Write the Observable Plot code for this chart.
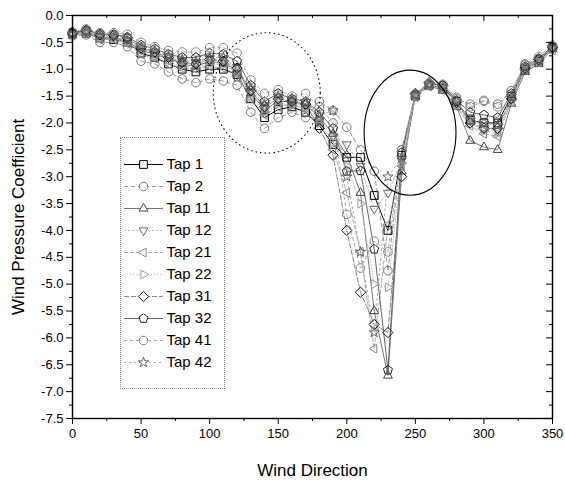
<!DOCTYPE html>
<html><head><meta charset="utf-8">
<script src="https://cdn.jsdelivr.net/npm/d3@7"></script>
<script src="https://cdn.jsdelivr.net/npm/@observablehq/plot@0.6"></script>
<style>
html,body{margin:0;padding:0;background:#fff;}
#chart{position:relative;width:565px;height:484px;font-family:"Liberation Sans",Arial,sans-serif;}
#legend{position:absolute;left:120px;top:137px;}
</style></head><body>
<div id="chart"><div id="legend"></div></div>
<script>
// ---------- data ----------
const directions = [0,10,20,30,40,50,60,70,80,90,100,110,120,130,140,150,160,170,180,190,200,210,220,230,240,250,260,270,280,290,300,310,320,330,340,350];
const tap1  = [-0.35,-0.33,-0.42,-0.45,-0.50,-0.70,-0.78,-0.90,-1.00,-1.05,-1.00,-1.00,-1.10,-1.55,-1.90,-1.75,-1.70,-1.80,-2.05,-2.40,-2.64,-2.64,-3.35,-4.00,-2.60,-1.50,-1.30,-1.35,-1.60,-1.95,-2.00,-2.00,-1.50,-1.00,-0.85,-0.60];
const tap2  = [-0.38,-0.36,-0.50,-0.50,-0.58,-0.85,-0.90,-1.05,-1.18,-1.25,-1.18,-1.22,-1.30,-1.80,-2.10,-1.90,-1.80,-1.90,-1.60,-1.77,-2.08,-2.50,-2.90,-4.75,-2.50,-1.48,-1.28,-1.30,-1.55,-1.65,-1.58,-1.65,-1.40,-0.92,-0.80,-0.58];
const tap11 = [-0.33,-0.30,-0.40,-0.42,-0.48,-0.65,-0.72,-0.80,-0.90,-0.95,-0.85,-0.90,-1.00,-1.45,-1.75,-1.60,-1.60,-1.65,-1.90,-2.20,-2.60,-3.30,-5.50,-6.70,-2.90,-1.50,-1.30,-1.40,-1.70,-2.33,-2.45,-2.50,-1.64,-1.05,-0.90,-0.62];
const tap12 = [-0.34,-0.32,-0.40,-0.40,-0.46,-0.62,-0.70,-0.78,-0.85,-0.88,-0.80,-0.82,-0.95,-1.40,-1.70,-1.55,-1.60,-1.70,-1.95,-2.25,-2.40,-2.80,-3.60,-3.30,-2.70,-1.50,-1.30,-1.35,-1.65,-1.90,-2.10,-2.15,-1.55,-1.00,-0.85,-0.62];
const tap21 = [-0.36,-0.33,-0.45,-0.44,-0.52,-0.72,-0.80,-0.90,-0.98,-1.00,-0.95,-0.98,-1.10,-1.55,-1.85,-1.70,-1.65,-1.75,-2.00,-2.50,-3.30,-4.40,-6.20,-3.90,-2.80,-1.52,-1.32,-1.38,-1.70,-2.05,-2.20,-2.25,-1.60,-1.02,-0.88,-0.65];
const tap22 = [-0.35,-0.31,-0.43,-0.43,-0.50,-0.68,-0.76,-0.86,-0.95,-0.98,-0.90,-0.92,-1.05,-1.50,-1.80,-1.65,-1.68,-1.72,-2.00,-2.35,-2.80,-3.50,-5.00,-5.06,-2.75,-1.50,-1.30,-1.36,-1.68,-2.00,-2.15,-2.20,-1.58,-1.00,-0.86,-0.63];
const tap31 = [-0.33,-0.28,-0.36,-0.37,-0.42,-0.60,-0.68,-0.78,-0.88,-0.90,-0.82,-0.85,-0.98,-1.40,-1.70,-1.55,-1.60,-1.65,-2.10,-2.60,-4.00,-5.15,-5.75,-5.90,-3.00,-1.45,-1.25,-1.30,-1.62,-2.00,-2.10,-2.10,-1.55,-0.98,-0.82,-0.60];
const tap32 = [-0.32,-0.27,-0.34,-0.35,-0.40,-0.55,-0.62,-0.72,-0.78,-0.78,-0.70,-0.72,-0.85,-1.30,-1.60,-1.45,-1.55,-1.60,-1.80,-2.10,-2.90,-2.89,-4.35,-6.60,-2.55,-1.47,-1.27,-1.30,-1.58,-1.80,-1.85,-1.90,-1.45,-0.95,-0.80,-0.58];
const tap41 = [-0.30,-0.25,-0.32,-0.32,-0.35,-0.50,-0.58,-0.65,-0.68,-0.68,-0.60,-0.60,-0.70,-1.20,-1.45,-1.38,-1.50,-1.45,-1.70,-2.00,-3.70,-4.70,-4.20,-4.40,-2.50,-1.46,-1.27,-1.28,-1.52,-1.70,-1.60,-1.70,-1.40,-0.90,-0.76,-0.55];
const tap42 = [-0.35,-0.30,-0.38,-0.38,-0.44,-0.60,-0.66,-0.75,-0.82,-0.85,-0.78,-0.78,-1.15,-1.35,-1.65,-1.50,-1.55,-1.60,-1.85,-1.77,-3.00,-4.40,-5.90,-3.00,-2.65,-1.48,-1.30,-1.32,-1.60,-1.95,-2.00,-2.05,-1.50,-0.96,-0.82,-0.60];
const taps = ["Tap 1","Tap 2","Tap 11","Tap 12","Tap 21","Tap 22","Tap 31","Tap 32","Tap 41","Tap 42"];
const seriesValues = [tap1,tap2,tap11,tap12,tap21,tap22,tap31,tap32,tap41,tap42];
const xTicks = [0,50,100,150,200,250,300,350];
const xMinorTicks = [25,75,125,175,225,275,325];
const yTicks = [0,-0.5,-1,-1.5,-2,-2.5,-3,-3.5,-4,-4.5,-5,-5.5,-6,-6.5,-7,-7.5];
const yMinorTicks = [-0.25,-0.75,-1.25,-1.75,-2.25,-2.75,-3.25,-3.75,-4.25,-4.75,-5.25,-5.75,-6.25,-6.75,-7.25];
const xLabel = "Wind Direction";
const yLabel = "Wind Pressure Coefficient";
// highlighted regions (centre and half-axes in data units)
const regionDotted = {cx:142, cy:-1.45, rx:39, ry:1.12};
const regionSolid  = {cx:246.5, cy:-2.19, rx:33.5, ry:1.165};

// ---------- symbols ----------
function poly(pts){
  return {draw(ctx, size){
    const r = Math.sqrt(size/Math.PI);
    pts.forEach(([a,b],i)=> i ? ctx.lineTo(a*r,b*r) : ctx.moveTo(a*r,b*r));
    ctx.closePath();
  }};
}
function ngon(n, k, rot){
  const p=[]; for(let i=0;i<n;i++){const a=rot+2*Math.PI*i/n; p.push([k*Math.cos(a),k*Math.sin(a)]);} return p;
}
function starPts(){
  const p=[]; for(let i=0;i<10;i++){const a=-Math.PI/2+Math.PI*i/5; const k=i%2?0.5:1.25; p.push([k*Math.cos(a),k*Math.sin(a)]);} return p;
}
const symSquare = poly([[-0.9,-0.9],[0.9,-0.9],[0.9,0.9],[-0.9,0.9]]);
const symCircle = {draw(ctx,size){const r=Math.sqrt(size/Math.PI); ctx.moveTo(r,0); ctx.arc(0,0,r,0,2*Math.PI);}};
const symUp = poly(ngon(3,1.2,-Math.PI/2));
const symDown = poly(ngon(3,1.2,Math.PI/2));
const symLeft = poly(ngon(3,1.2,Math.PI));
const symRight = poly(ngon(3,1.2,0));
const symDiamond = poly([[0,-1.2],[1.2,0],[0,1.2],[-1.2,0]]);
const symPent = poly(ngon(5,1.1,-Math.PI/2));
const symHex = poly(ngon(8,1.05,Math.PI/8));
const symStar = poly(starPts());

const styles = {
  "Tap 1":  {sym:symSquare, mk:"#000", ln:"#000", dash:null},
  "Tap 2":  {sym:symCircle, mk:"#777", ln:"#999", dash:"4,3"},
  "Tap 11": {sym:symUp,     mk:"#444", ln:"#777", dash:null},
  "Tap 12": {sym:symDown,   mk:"#666", ln:"#bbb", dash:"2,2"},
  "Tap 21": {sym:symLeft,   mk:"#888", ln:"#aaa", dash:"4,2"},
  "Tap 22": {sym:symRight,  mk:"#999", ln:"#bbb", dash:"1,2"},
  "Tap 31": {sym:symDiamond,mk:"#111", ln:"#888", dash:"5,2"},
  "Tap 32": {sym:symPent,   mk:"#222", ln:"#666", dash:null},
  "Tap 41": {sym:symHex,    mk:"#888", ln:"#aaa", dash:"3,3"},
  "Tap 42": {sym:symStar,   mk:"#666", ln:"#aaa", dash:"2,3"}
};

function ellipseMark(e, dash){
  return (index, scales) => {
    const cx = scales.x(e.cx), cy = scales.y(e.cy);
    const rx = Math.abs(scales.x(e.cx+e.rx)-cx), ry = Math.abs(scales.y(e.cy+e.ry)-cy);
    const el = d3.create("svg:ellipse")
      .attr("cx",cx).attr("cy",cy).attr("rx",rx).attr("ry",ry)
      .attr("fill","none").attr("stroke","#000").attr("stroke-width",1.1);
    if (dash) el.attr("stroke-dasharray",dash);
    return el.node();
  };
}

const W=565,H=484,ML=72,MR=13,MT=15,MB=66;
const PW=W-ML-MR, PH=H-MT-MB;

const lineMarks=[], dotMarks=[];
taps.forEach((name,i)=>{
  const rows = directions.map((d,j)=>({dir:d, cp:seriesValues[i][j]}));
  const s = styles[name];
  lineMarks.push(Plot.line(rows,{x:"dir",y:"cp",stroke:s.ln,strokeWidth:1,strokeDasharray:s.dash}));
  dotMarks.push(Plot.dot(rows,{x:"dir",y:"cp",symbol:s.sym,r:4.3,stroke:s.mk,strokeWidth:1,fill:"none"}));
});

const chart = Plot.plot({
  width:W, height:H, marginLeft:ML, marginRight:MR, marginTop:MT, marginBottom:MB,
  style:{fontFamily:'"Liberation Sans",Arial,sans-serif', fontSize:"13px", color:"#000", background:"#fff"},
  x:{domain:[0,350], label:null},
  y:{domain:[-7.5,0], label:null},
  marks:[
    ...lineMarks,
    ...dotMarks,
    ellipseMark(regionDotted,"1.5,3"),
    ellipseMark(regionSolid,null),
    Plot.axisX(xTicks,{anchor:"bottom",tickSize:6,tickPadding:4,fontSize:13,label:null,tickFormat:d=>String(d)}),
    Plot.axisX(xMinorTicks,{anchor:"bottom",tickSize:3,tickFormat:()=>"",label:null}),
    Plot.axisY(yTicks,{anchor:"left",tickSize:6,tickPadding:3,fontSize:13,label:null,tickFormat:d=>d.toFixed(1)}),
    Plot.axisY(yMinorTicks,{anchor:"left",tickSize:3,tickFormat:()=>"",label:null}),
    Plot.tickX(xTicks,{x:d=>d,insetBottom:PH-6,stroke:"#000"}),
    Plot.tickX(xMinorTicks,{x:d=>d,insetBottom:PH-3,stroke:"#000"}),
    Plot.tickY(yTicks,{y:d=>d,insetLeft:PW-6,stroke:"#000"}),
    Plot.tickY(yMinorTicks,{y:d=>d,insetLeft:PW-3,stroke:"#000"}),
    Plot.frame({stroke:"#000",strokeWidth:1.4}),
    Plot.text([xLabel],{frameAnchor:"bottom",dy:52,lineAnchor:"middle",textAnchor:"middle",fontSize:17}),
    Plot.text([yLabel],{frameAnchor:"left",dx:-54,rotate:-90,textAnchor:"middle",lineAnchor:"middle",fontSize:17})
  ]
});
document.getElementById("chart").prepend(chart);

// legend
const legMarks=[];
taps.forEach(name=>{
  const s=styles[name];
  legMarks.push(Plot.ruleY([name],{y:d=>d,insetLeft:3,insetRight:61,stroke:s.ln,strokeWidth:1,strokeDasharray:s.dash}));
  legMarks.push(Plot.dot([name],{y:d=>d,frameAnchor:"left",dx:22,symbol:s.sym,r:4.3,stroke:s.mk,strokeWidth:1,fill:"#fff"}));
});
const legend = Plot.plot({
  width:103, height:250, marginTop:14, marginBottom:15, marginLeft:0, marginRight:0,
  style:{fontFamily:'"Liberation Sans",Arial,sans-serif', color:"#000", background:"#fff", border:"1px dotted #888", display:"block"},
  x:{domain:[0,1], axis:null},
  y:{domain:taps, type:"point", axis:null},
  marks:[
    ...legMarks,
    Plot.text(taps,{y:d=>d,frameAnchor:"left",dx:45,textAnchor:"start",fontSize:15})
  ]
});
document.getElementById("legend").appendChild(legend);
</script>
</body></html>
